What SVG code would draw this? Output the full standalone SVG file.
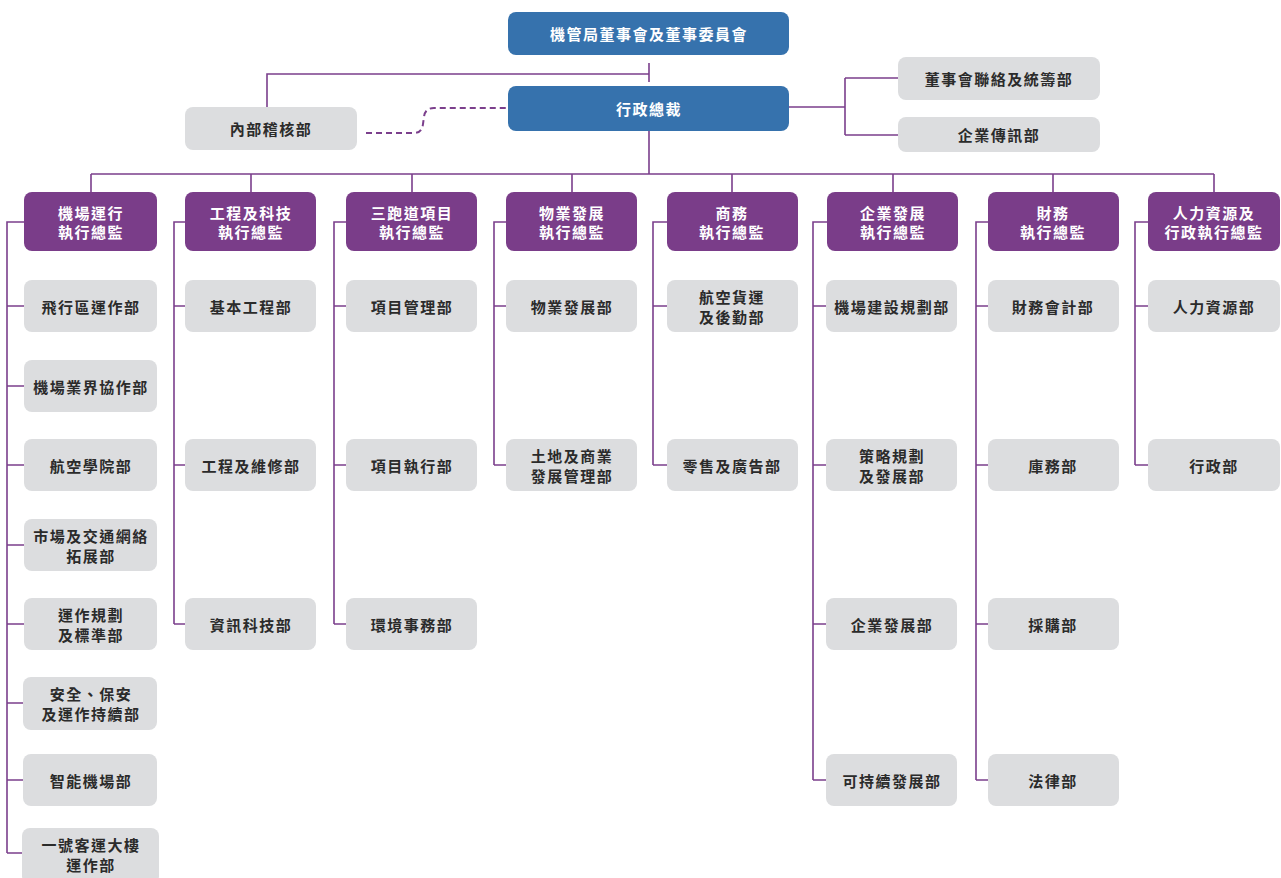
<svg xmlns="http://www.w3.org/2000/svg" width="1281" height="878" viewBox="0 0 1281 878">
<style>
.blue{fill:#3672AD}
.exec{fill:#7A3D89}
.dept{fill:#DCDDDF}
text{font-family:"Noto Sans CJK TC","Noto Sans CJK SC",sans-serif;font-weight:bold;font-size:15px;text-anchor:middle;dominant-baseline:central;letter-spacing:1.5px}
.w{fill:#FFFFFF}
.d{fill:#2B2B2B}
.ln{fill:none;stroke:#7B3F8C;stroke-width:1.6}
.dash{fill:none;stroke:#7B3F8C;stroke-width:2;stroke-dasharray:6 4}
</style>
<rect width="1281" height="878" fill="#FFFFFF"/>
<g id="connectors">
<path class="ln" d="M649 63V82M649 74H267V107"/>
<path class="dash" d="M366 133H414Q422 133 423 124L424 117Q425 108 434 108H508"/>
<path class="ln" d="M789 107H845M845 78V135M845 78H898M845 135H898"/>
<path class="ln" d="M649 131V174M91 174H1214M91 174V192M251 174V192M412 174V192M572 174V192M732 174V192M893 174V192M1053 174V192M1214 174V192"/>
<path class="ln" d="M24 222H7V853M7 306H24M7 386H24M7 465H24M7 545H24M7 624H24M7 703H24M7 780H24M7 853H22"/>
<path class="ln" d="M185 222H174V624M174 306H185M174 465H185M174 624H185"/>
<path class="ln" d="M346 222H334V624M334 306H346M334 465H346M334 624H346"/>
<path class="ln" d="M506 222H494V465M494 306H506M494 465H506"/>
<path class="ln" d="M667 222H653V465M653 306H667M653 465H667"/>
<path class="ln" d="M827 222H813V780M813 306H827M813 465H827M813 624H827M813 780H827"/>
<path class="ln" d="M988 222H976V780M976 306H988M976 465H988M976 624H988M976 780H988"/>
<path class="ln" d="M1148 222H1135V465M1135 306H1148M1135 465H1148"/>
</g>
<g id="board"><rect class="blue" x="508" y="12" width="281" height="43" rx="8"/><text class="w" x="649" y="33">機管局董事會及董事委員會</text></g>
<g id="ceo"><rect class="blue" x="508" y="86" width="281" height="45" rx="8"/><text class="w" x="649" y="108">行政總裁</text></g>
<g id="audit"><rect class="dept" x="185" y="107" width="172" height="43" rx="8"/><text class="d" x="271" y="128">內部稽核部</text></g>
<g id="board-liaison"><rect class="dept" x="898" y="57" width="202" height="43" rx="8"/><text class="d" x="999" y="78">董事會聯絡及統籌部</text></g>
<g id="comms"><rect class="dept" x="898" y="117" width="202" height="35" rx="8"/><text class="d" x="999" y="134">企業傳訊部</text></g>

<g id="exec1"><rect class="exec" x="24" y="192" width="133" height="59" rx="8"/><text class="w" x="91" y="212">機場運行</text><text class="w" x="91" y="231">執行總監</text></g>
<g id="exec2"><rect class="exec" x="185" y="192" width="131" height="59" rx="8"/><text class="w" x="251" y="212">工程及科技</text><text class="w" x="251" y="231">執行總監</text></g>
<g id="exec3"><rect class="exec" x="346" y="192" width="131" height="59" rx="8"/><text class="w" x="412" y="212">三跑道項目</text><text class="w" x="412" y="231">執行總監</text></g>
<g id="exec4"><rect class="exec" x="506" y="192" width="131" height="59" rx="8"/><text class="w" x="572" y="212">物業發展</text><text class="w" x="572" y="231">執行總監</text></g>
<g id="exec5"><rect class="exec" x="667" y="192" width="131" height="59" rx="8"/><text class="w" x="732" y="212">商務</text><text class="w" x="732" y="231">執行總監</text></g>
<g id="exec6"><rect class="exec" x="827" y="192" width="131" height="59" rx="8"/><text class="w" x="893" y="212">企業發展</text><text class="w" x="893" y="231">執行總監</text></g>
<g id="exec7"><rect class="exec" x="988" y="192" width="131" height="59" rx="8"/><text class="w" x="1053" y="212">財務</text><text class="w" x="1053" y="231">執行總監</text></g>
<g id="exec8"><rect class="exec" x="1148" y="192" width="132" height="59" rx="8"/><text class="w" x="1214" y="212">人力資源及</text><text class="w" x="1214" y="231">行政執行總監</text></g>

<g id="c1d1"><rect class="dept" x="24" y="280" width="133" height="52" rx="8"/><text class="d" x="91" y="306">飛行區運作部</text></g>
<g id="c1d2"><rect class="dept" x="24" y="360" width="133" height="52" rx="8"/><text class="d" x="91" y="386">機場業界協作部</text></g>
<g id="c1d3"><rect class="dept" x="24" y="439" width="133" height="52" rx="8"/><text class="d" x="91" y="465">航空學院部</text></g>
<g id="c1d4"><rect class="dept" x="24" y="519" width="133" height="52" rx="8"/><text class="d" x="91" y="535">市場及交通網絡</text><text class="d" x="91" y="555">拓展部</text></g>
<g id="c1d5"><rect class="dept" x="24" y="598" width="133" height="52" rx="8"/><text class="d" x="91" y="614">運作規劃</text><text class="d" x="91" y="634">及標準部</text></g>
<g id="c1d6"><rect class="dept" x="23" y="677" width="134" height="53" rx="8"/><text class="d" x="91" y="693">安全、保安</text><text class="d" x="91" y="713">及運作持續部</text></g>
<g id="c1d7"><rect class="dept" x="23" y="754" width="134" height="52" rx="8"/><text class="d" x="91" y="780">智能機場部</text></g>
<g id="c1d8"><rect class="dept" x="22" y="828" width="137" height="56" rx="8"/><text class="d" x="91" y="844">一號客運大樓</text><text class="d" x="91" y="864">運作部</text></g>

<g id="c2d1"><rect class="dept" x="185" y="280" width="131" height="52" rx="8"/><text class="d" x="251" y="306">基本工程部</text></g>
<g id="c2d2"><rect class="dept" x="185" y="439" width="131" height="52" rx="8"/><text class="d" x="251" y="465">工程及維修部</text></g>
<g id="c2d3"><rect class="dept" x="185" y="598" width="131" height="52" rx="8"/><text class="d" x="251" y="624">資訊科技部</text></g>

<g id="c3d1"><rect class="dept" x="346" y="280" width="131" height="52" rx="8"/><text class="d" x="412" y="306">項目管理部</text></g>
<g id="c3d2"><rect class="dept" x="346" y="439" width="131" height="52" rx="8"/><text class="d" x="412" y="465">項目執行部</text></g>
<g id="c3d3"><rect class="dept" x="346" y="598" width="131" height="52" rx="8"/><text class="d" x="412" y="624">環境事務部</text></g>

<g id="c4d1"><rect class="dept" x="506" y="280" width="131" height="52" rx="8"/><text class="d" x="572" y="306">物業發展部</text></g>
<g id="c4d2"><rect class="dept" x="506" y="439" width="131" height="52" rx="8"/><text class="d" x="572" y="455">土地及商業</text><text class="d" x="572" y="475">發展管理部</text></g>

<g id="c5d1"><rect class="dept" x="667" y="280" width="131" height="52" rx="8"/><text class="d" x="732" y="296">航空貨運</text><text class="d" x="732" y="316">及後勤部</text></g>
<g id="c5d2"><rect class="dept" x="667" y="439" width="131" height="52" rx="8"/><text class="d" x="732" y="465">零售及廣告部</text></g>

<g id="c6d1"><rect class="dept" x="826" y="280" width="131" height="52" rx="8"/><text class="d" x="892" y="306">機場建設規劃部</text></g>
<g id="c6d2"><rect class="dept" x="826" y="439" width="131" height="52" rx="8"/><text class="d" x="892" y="455">策略規劃</text><text class="d" x="892" y="475">及發展部</text></g>
<g id="c6d3"><rect class="dept" x="826" y="598" width="131" height="52" rx="8"/><text class="d" x="892" y="624">企業發展部</text></g>
<g id="c6d4"><rect class="dept" x="826" y="754" width="131" height="52" rx="8"/><text class="d" x="892" y="780">可持續發展部</text></g>

<g id="c7d1"><rect class="dept" x="988" y="280" width="131" height="52" rx="8"/><text class="d" x="1053" y="306">財務會計部</text></g>
<g id="c7d2"><rect class="dept" x="988" y="439" width="131" height="52" rx="8"/><text class="d" x="1053" y="465">庫務部</text></g>
<g id="c7d3"><rect class="dept" x="988" y="598" width="131" height="52" rx="8"/><text class="d" x="1053" y="624">採購部</text></g>
<g id="c7d4"><rect class="dept" x="988" y="754" width="131" height="52" rx="8"/><text class="d" x="1053" y="780">法律部</text></g>

<g id="c8d1"><rect class="dept" x="1148" y="280" width="132" height="52" rx="8"/><text class="d" x="1214" y="306">人力資源部</text></g>
<g id="c8d2"><rect class="dept" x="1148" y="439" width="132" height="52" rx="8"/><text class="d" x="1214" y="465">行政部</text></g>
</svg>
